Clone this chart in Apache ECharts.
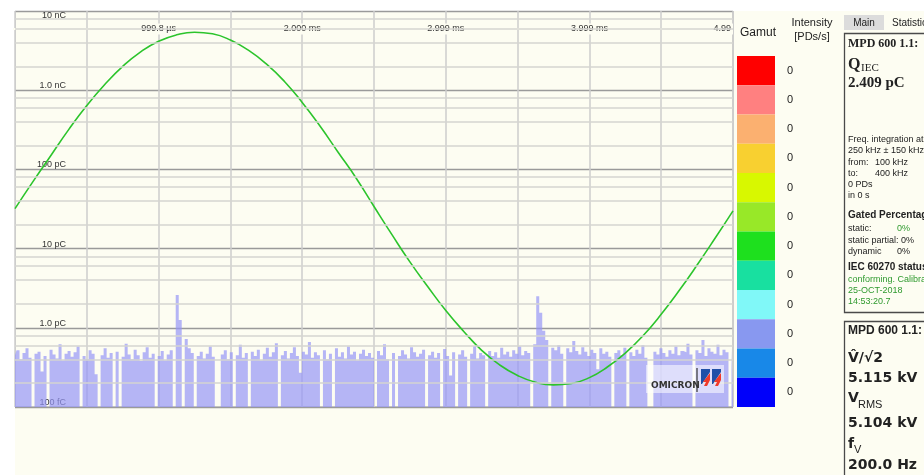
<!DOCTYPE html>
<html>
<head>
<meta charset="utf-8">
<script src="https://cdn.jsdelivr.net/npm/echarts@6/dist/echarts.min.js"></script>
<style>
  html, body { margin: 0; padding: 0; background: #fff; }
  #chart { width: 924px; height: 475px; }
</style>
</head>
<body>
<div id="chart"></div>
<script>
// time axis (ms) - labels only on the full milliseconds
const timeTicks = [1, 2, 3, 4, 5]
const timeLabels = ['999.8 µs', '2.000 ms', '2.999 ms', '3.999 ms', '4.99']

// charge axis (pC), one label per decade
const chargeLabels = ['100 fC', '1.0 pC', '10 pC', '100 pC', '1.0 nC', '10 nC']
const minorCharge = [0.2, 0.4, 0.6, 0.8, 2, 4, 6, 8, 20, 40, 60, 80, 200, 400, 600, 800, 2000, 4000, 6000, 8000]

// test voltage trace (value on the charge scale)
const waveTime = [0, 0.125, 0.25, 0.375, 0.5, 0.625, 0.75, 0.875, 1, 1.125, 1.25, 1.375, 1.5, 1.625, 1.75, 1.875, 2,
  2.125, 2.25, 2.375, 2.5, 2.625, 2.75, 2.875, 3, 3.125, 3.25, 3.375, 3.5, 3.625, 3.75, 3.875, 4,
  4.125, 4.25, 4.375, 4.5, 4.625, 4.75, 4.875, 5]
const waveCharge = [32, 70, 150, 320, 640, 1180, 2000, 3050, 4150, 5000, 5400, 5150, 4300, 3200, 2150, 1300, 700,
  350, 165, 78, 34, 15, 6.8, 3.3, 1.65, 0.9, 0.52, 0.34, 0.25, 0.205, 0.19, 0.198, 0.235, 0.32,
  0.48, 0.8, 1.48, 2.95, 6.2, 13.5, 30]

// PD charge histogram (pC), 240 bins across the 5 ms window
const pdHistogram = [
  0.45, 0.52, 0.40, 0.48, 0.55, 0.42, 0.1, 0.47, 0.50, 0.28, 0.44, 0.1, 0.53, 0.46, 0.41, 0.62, 0.39, 0.47, 0.51, 0.43,
  0.49, 0.58, 0.1, 0.44, 0.40, 0.52, 0.47, 0.26, 0.1, 0.45, 0.55, 0.42, 0.48, 0.1, 0.50, 0.1, 0.43, 0.63, 0.46, 0.40,
  0.53, 0.45, 0.38, 0.49, 0.57, 0.42, 0.47, 0.1, 0.44, 0.51, 0.39, 0.46, 0.52, 0.1, 2.6, 1.25, 0.1, 0.72, 0.55, 0.48,
  0.1, 0.44, 0.50, 0.41, 0.47, 0.58, 0.43, 0.1, 0.1, 0.46, 0.52, 0.40, 0.49, 0.1, 0.45, 0.61, 0.42, 0.48, 0.1, 0.50,
  0.44, 0.53, 0.39, 0.47, 0.56, 0.43, 0.49, 0.64, 0.1, 0.45, 0.51, 0.41, 0.48, 0.57, 0.44, 0.27, 0.50, 0.46, 0.66, 0.42,
  0.49, 0.45, 0.1, 0.52, 0.40, 0.47, 0.1, 0.55, 0.43, 0.49, 0.41, 0.58, 0.46, 0.50, 0.39, 0.47, 0.53, 0.44, 0.48, 0.42,
  0.1, 0.51, 0.45, 0.62, 0.40, 0.1, 0.48, 0.1, 0.44, 0.52, 0.46, 0.41, 0.57, 0.49, 0.43, 0.47, 0.53, 0.1, 0.45, 0.50,
  0.42, 0.48, 0.1, 0.54, 0.44, 0.25, 0.49, 0.1, 0.46, 0.52, 0.43, 0.1, 0.47, 0.59, 0.41, 0.48, 0.45, 0.1, 0.51, 0.44,
  0.49, 0.42, 0.56, 0.46, 0.50, 0.43, 0.52, 0.47, 0.58, 0.45, 0.51, 0.48, 0.1, 0.62, 2.5, 1.55, 0.92, 0.70, 0.1, 0.56,
  0.52, 0.60, 0.47, 0.1, 0.55, 0.49, 0.68, 0.51, 0.46, 0.57, 0.50, 0.44, 0.53, 0.48, 0.30, 0.55, 0.47, 0.50, 0.43, 0.1,
  0.48, 0.52, 0.45, 0.56, 0.1, 0.49, 0.44, 0.53, 0.47, 0.60, 0.42, 0.1, 0.1, 0.50, 0.46, 0.55, 0.48, 0.43, 0.52, 0.47,
  0.58, 0.45, 0.51, 0.49, 0.63, 0.46, 0.1, 0.52, 0.48, 0.70, 0.44, 0.55, 0.50, 0.47, 0.61, 0.45, 0.53, 0.49, 0.1, 0.57
]

// gamut colour scale, top to bottom, with the intensity per step
const gamutColors = ['#ff0000', '#ff8080', '#fbb070', '#f8d030', '#d8f800', '#98e828',
  '#1ee01e', '#18e0a0', '#80f8f8', '#8898f0', '#1888e8', '#0000fa']
const gamutIntensity = [0, 0, 0, 0, 0, 0, 0, 0, 0, 0, 0, 0]

const cream = '#fdfdf2'
const chart = echarts.init(document.getElementById('chart'))

const T = (x, y, text, font, fill, align) => ({
  type: 'text', x: x, y: y, z: 10,
  style: { text: text, font: font, fill: fill || '#222', textAlign: align || 'left', textVerticalAlign: 'middle' }
})
const small = '9px "Liberation Sans"'
const green = '#2f9a2f'

const option = {
  backgroundColor: cream,
  animation: false,
  grid: [
    { left: 15, top: 11, width: 718, height: 396, show: true, borderColor: '#a4a4a4', borderWidth: 1, backgroundColor: 'transparent' },
    { left: 737, top: 56, width: 38, height: 351 }
  ],
  xAxis: [
    {
      type: 'value', gridIndex: 0, position: 'top', min: 0, max: 5, interval: 0.5,
      axisLine: { show: false }, axisTick: { show: false },
      splitLine: { show: true, lineStyle: { color: '#cdcdcd', width: 1.5 } },
      axisLabel: {
        inside: true, margin: 18, verticalAlign: 'middle', alignMaxLabel: 'right',
        fontSize: 9, fontFamily: 'Liberation Sans', color: '#333',
        backgroundColor: cream, padding: [1, 2],
        formatter: v => {
          const i = timeTicks.findIndex(t => Math.abs(t - v) < 1e-6)
          return i < 0 ? '' : timeLabels[i]
        }
      }
    },
    { type: 'category', gridIndex: 0, show: false, boundaryGap: false, data: pdHistogram.map((_, i) => i) },
    { type: 'value', gridIndex: 1, min: 0, max: 1, show: false }
  ],
  yAxis: [
    {
      type: 'log', gridIndex: 0, logBase: 10, min: 0.1, max: 10000,
      axisLine: { show: false }, axisTick: { show: false },
      splitLine: { show: true, lineStyle: { color: '#9a9a9a', width: 1.3 } },
      axisLabel: {
        inside: true, align: 'right', margin: 51, verticalAlign: 'bottom', verticalAlignMaxLabel: 'top',
        fontSize: 9, fontFamily: 'Liberation Sans', color: '#333',
        formatter: (v, i) => chargeLabels[i] || ''
      }
    },
    {
      type: 'category', gridIndex: 1, position: 'right', inverse: true, data: gamutColors,
      axisLine: { show: false }, axisTick: { show: false },
      axisLabel: { margin: 12, fontSize: 11, fontFamily: 'Liberation Sans', color: '#222',
        formatter: (v, i) => String(gamutIntensity[i]) }
    }
  ],
  series: [
    {
      type: 'line', xAxisIndex: 0, yAxisIndex: 0, data: [], z: 1, silent: true,
      markLine: {
        silent: true, symbol: ['none', 'none'], label: { show: false },
        lineStyle: { type: 'solid', color: '#d4d4d0', width: 1.5 },
        data: minorCharge.map(v => ({ yAxis: v }))
      }
    },
    {
      type: 'line', name: 'PD', xAxisIndex: 1, yAxisIndex: 0, data: pdHistogram,
      step: 'middle', symbol: 'none', silent: true, z: 2,
      lineStyle: { width: 0 },
      areaStyle: { color: 'rgba(149,149,247,0.7)', opacity: 1, origin: 'start' }
    },
    {
      type: 'line', name: 'V', xAxisIndex: 0, yAxisIndex: 0, z: 3,
      data: waveTime.map((t, i) => [t, waveCharge[i]]),
      smooth: true, symbol: 'none',
      lineStyle: { color: '#2cc42c', width: 1.6 }
    },
    {
      type: 'bar', xAxisIndex: 2, yAxisIndex: 1, barWidth: '100%', silent: true,
      data: gamutColors.map(c => ({ value: 1, itemStyle: { color: c } }))
    }
  ],
  graphic: [
    { type: 'rect', shape: { x: 0, y: 0, width: 924, height: 11 }, style: { fill: '#fff' } },
    { type: 'rect', shape: { x: 0, y: 0, width: 15, height: 475 }, style: { fill: '#fff' } },
    // OMICRON badge
    { type: 'rect', z: 10, shape: { x: 646, y: 365, width: 78, height: 28 }, style: { fill: 'rgba(255,255,255,0.55)' } },
    T(651, 386, 'OMICRON', 'bold 9px "DejaVu Sans"', '#333'),
    { type: 'line', z: 10, shape: { x1: 697, y1: 368, x2: 697, y2: 392 }, style: { stroke: '#333', lineWidth: 1.2 } },
    { type: 'polygon', z: 10, shape: { points: [[701, 369], [710, 369], [710, 372], [702, 384], [701, 384]] }, style: { fill: '#2050a8' } },
    { type: 'polygon', z: 10, shape: { points: [[710, 373], [710, 380], [707, 386], [704, 386], [706, 382], [703, 382]] }, style: { fill: '#f03a2a' } },
    { type: 'polygon', z: 10, shape: { points: [[712, 369], [721, 369], [721, 372], [713, 384], [712, 384]] }, style: { fill: '#2050a8' } },
    { type: 'polygon', z: 10, shape: { points: [[721, 373], [721, 380], [718, 386], [715, 386], [717, 382], [714, 382]] }, style: { fill: '#f03a2a' } },
    // gamut headers
    T(758, 33, 'Gamut', '12px "Liberation Sans"', '#222', 'center'),
    T(812, 23, 'Intensity', '11px "Liberation Sans"', '#222', 'center'),
    T(812, 37, '[PDs/s]', '11px "Liberation Sans"', '#222', 'center'),
    // right panel tabs
    { type: 'rect', shape: { x: 844, y: 15, width: 40, height: 15 }, style: { fill: '#dcdcdc' } },
    T(864, 23, 'Main', '10px "Liberation Sans"', '#222', 'center'),
    T(892, 23, 'Statistics', '10px "Liberation Sans"', '#222'),
    // box 1
    { type: 'rect', shape: { x: 844.5, y: 33.5, width: 100, height: 279 }, style: { fill: cream, stroke: '#4a4a4a', lineWidth: 1.3 } },
    T(848, 44, 'MPD 600 1.1:', 'bold 12px "Liberation Serif"'),
    T(848, 65, 'Q', 'bold 16px "Liberation Serif"'),
    T(861, 68, 'IEC', '11px "Liberation Serif"'),
    T(848, 83, '2.409 pC', 'bold 15px "Liberation Serif"'),
    T(848, 140, 'Freq. integration at', small),
    T(848, 151, '250 kHz ± 150 kHz', small),
    T(848, 163, 'from:', small), T(875, 163, '100 kHz', small),
    T(848, 174, 'to:', small), T(875, 174, '400 kHz', small),
    T(848, 185, '0 PDs', small),
    T(848, 196, 'in 0 s', small),
    T(848, 215, 'Gated Percentage', 'bold 10px "Liberation Sans"'),
    T(848, 229, 'static:', small), T(897, 229, '0%', small, green),
    T(848, 241, 'static partial: 0%', small),
    T(848, 252, 'dynamic', small), T(897, 252, '0%', small),
    T(848, 267, 'IEC 60270 status', 'bold 10px "Liberation Sans"'),
    T(848, 280, 'conforming. Calibrated', small, green),
    T(848, 291, '25-OCT-2018', small, green),
    T(848, 302, '14:53:20.7', small, green),
    // box 2
    { type: 'rect', shape: { x: 844.5, y: 321.5, width: 100, height: 200 }, style: { fill: cream, stroke: '#4a4a4a', lineWidth: 1.3 } },
    T(848, 331, 'MPD 600 1.1:', 'bold 12px "Liberation Sans"'),
    T(848, 358, 'V\u0302/\u221A2', 'bold 14px "DejaVu Sans"'),
    T(848, 378, '5.115 kV', 'bold 14px "DejaVu Sans"'),
    T(848, 398, 'V', 'bold 14px "DejaVu Sans"'),
    T(858, 405, 'RMS', '11px "Liberation Sans"'),
    T(848, 423, '5.104 kV', 'bold 14px "DejaVu Sans"'),
    T(848, 444, 'f', 'bold 14px "DejaVu Sans"'),
    T(854, 450, 'V', '11px "Liberation Sans"'),
    T(848, 465, '200.0 Hz', 'bold 14px "DejaVu Sans"')
  ]
}

chart.setOption(option)
</script>
</body>
</html>
